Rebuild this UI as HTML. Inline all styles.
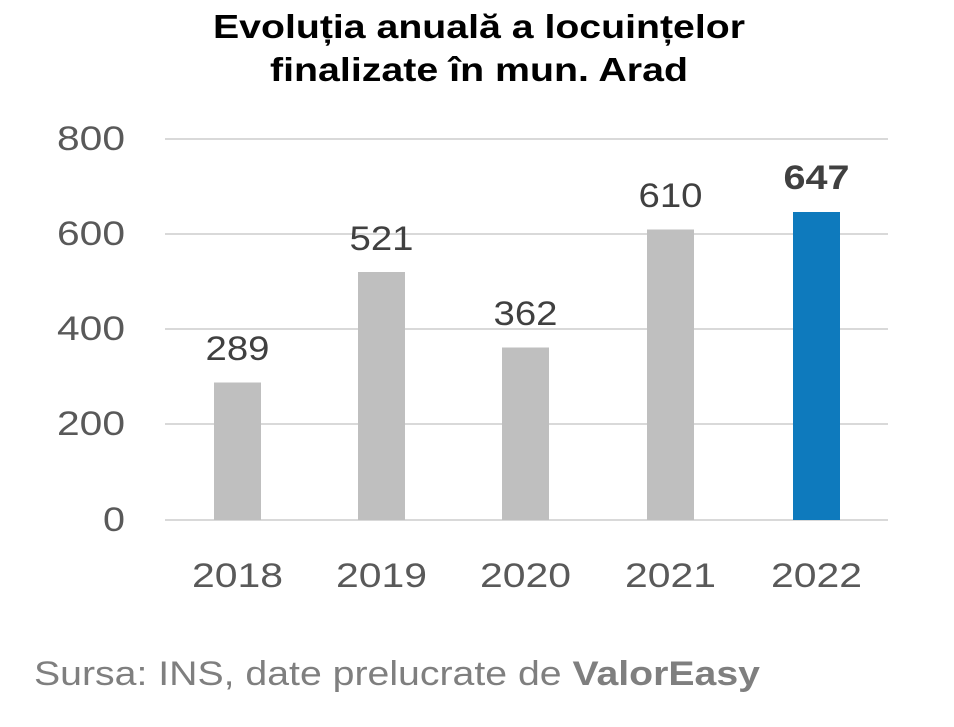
<!DOCTYPE html>
<html><head><meta charset="utf-8"><style>
html,body{margin:0;padding:0;background:#fff;}
svg{display:block;}
text{font-family:"Liberation Sans",sans-serif;}
</style></head><body>
<svg width="954" height="727" viewBox="0 0 954 727" xmlns="http://www.w3.org/2000/svg">
<rect width="954" height="727" fill="#fff"/>
<text x="213" y="38" font-size="33" font-weight="bold" fill="#000" textLength="532" lengthAdjust="spacingAndGlyphs">Evoluția anuală a locuințelor</text>
<text x="270" y="81" font-size="33" font-weight="bold" fill="#000" textLength="418" lengthAdjust="spacingAndGlyphs">finalizate în mun. Arad</text>
<g stroke="#d9d9d9" stroke-width="2">
<line x1="165" y1="139" x2="888" y2="139"/>
<line x1="165" y1="234" x2="888" y2="234"/>
<line x1="165" y1="329" x2="888" y2="329"/>
<line x1="165" y1="424" x2="888" y2="424"/>
<line x1="165" y1="520" x2="888" y2="520"/>
</g>
<g font-size="34" fill="#595959">
<text x="57" y="150" textLength="68" lengthAdjust="spacingAndGlyphs">800</text>
<text x="57" y="245" textLength="68" lengthAdjust="spacingAndGlyphs">600</text>
<text x="57" y="340" textLength="68" lengthAdjust="spacingAndGlyphs">400</text>
<text x="57" y="435" textLength="68" lengthAdjust="spacingAndGlyphs">200</text>
<text x="103" y="531" textLength="22" lengthAdjust="spacingAndGlyphs">0</text>
</g>
<g fill="#bfbfbf">
<rect x="214" y="382.5" width="47" height="137.5"/>
<rect x="358" y="272" width="47" height="248"/>
<rect x="502" y="347.5" width="47" height="172.5"/>
<rect x="647" y="229.5" width="47" height="290.5"/>
</g>
<rect x="793" y="212" width="47" height="308" fill="#0e7abd"/>
<g font-size="34" fill="#404040">
<text x="205.5" y="360" textLength="64" lengthAdjust="spacingAndGlyphs">289</text>
<text x="349.5" y="250" textLength="64" lengthAdjust="spacingAndGlyphs">521</text>
<text x="493.5" y="325" textLength="64" lengthAdjust="spacingAndGlyphs">362</text>
<text x="638.5" y="207" textLength="64" lengthAdjust="spacingAndGlyphs">610</text>
<text x="783.5" y="189" font-weight="bold" textLength="66" lengthAdjust="spacingAndGlyphs">647</text>
</g>
<g font-size="34" fill="#595959">
<text x="192" y="587" textLength="91" lengthAdjust="spacingAndGlyphs">2018</text>
<text x="336" y="587" textLength="91" lengthAdjust="spacingAndGlyphs">2019</text>
<text x="480" y="587" textLength="91" lengthAdjust="spacingAndGlyphs">2020</text>
<text x="625" y="587" textLength="91" lengthAdjust="spacingAndGlyphs">2021</text>
<text x="771" y="587" textLength="91" lengthAdjust="spacingAndGlyphs">2022</text>
</g>
<text x="34" y="685" font-size="34" fill="#7f7f7f" textLength="726" lengthAdjust="spacingAndGlyphs">Sursa: INS, date prelucrate de <tspan font-weight="bold">ValorEasy</tspan></text>
</svg>
</body></html>
